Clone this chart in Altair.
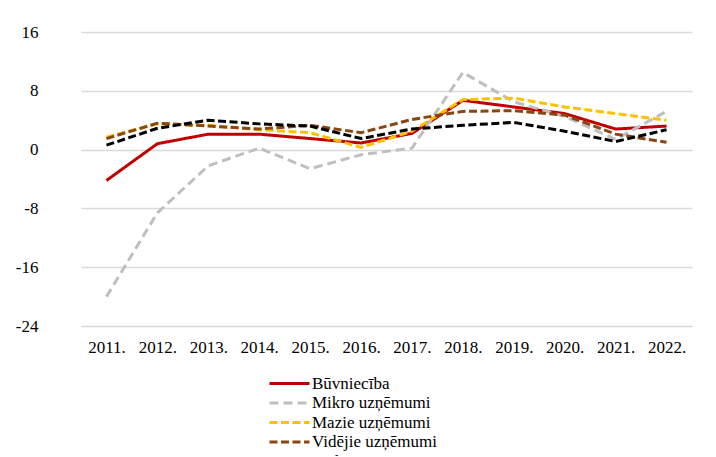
import altair as alt
import pandas as pd

years = ["2011.", "2012.", "2013.", "2014.", "2015.", "2016.", "2017.", "2018.", "2019.", "2020.", "2021.", "2022."]
series_names = ["Būvniecība", "Mikro uzņēmumi", "Mazie uzņēmumi", "Vidējie uzņēmumi", "Lielie uzņēmumi"]

buvnieciba = [-4.2, 0.8, 2.1, 2.1, 1.5, 0.9, 2.2, 6.7, 5.8, 4.9, 2.8, 3.2]
mikro = [-20.0, -8.6, -2.2, 0.2, -2.6, -0.7, 0.2, 10.5, 6.5, 4.5, 1.4, 5.2]
mazie = [1.7, 3.5, 3.3, 2.7, 2.3, 0.3, 2.5, 6.8, 7.0, 5.8, 4.9, 4.0]
videjie = [1.5, 3.6, 3.2, 2.8, 3.3, 2.3, 4.1, 5.2, 5.3, 4.7, 2.1, 1.0]
lielie = [0.6, 2.9, 4.0, 3.5, 3.2, 1.5, 2.8, 3.3, 3.7, 2.5, 1.1, 2.7]

colors = ["#C00000", "#BFBFBF", "#FFC000", "#8B4513", "#000000"]
dashes = [[1, 0], [9, 5], [8, 3.5], [8, 3.5], [8, 3.5]]

rows = []
for name, vals in zip(series_names, [buvnieciba, mikro, mazie, videjie, lielie]):
    for y, v in zip(years, vals):
        rows.append({"Gads": y, "Sērija": name, "Vērtība": v})
df = pd.DataFrame(rows)

FONT = "Liberation Serif"

chart = alt.Chart(df).mark_line(strokeWidth=3).encode(
    x=alt.X("Gads:O", sort=years, title=None,
            scale=alt.Scale(type="point", range=[28, 639]),
            axis=alt.Axis(labelAngle=0, ticks=False, domain=False, grid=False,
                          labelFont=FONT, labelFontSize=17, labelColor="#000000",
                          labelPadding=13)),
    y=alt.Y("Vērtība:Q", title=None,
            scale=alt.Scale(domain=[-24, 16], nice=False, zero=False),
            axis=alt.Axis(values=[-24, -16, -8, 0, 8, 16], ticks=False, domain=False,
                          labelExpr="'' + datum.value",
                          gridColor="#D9D9D9", gridWidth=1.3,
                          labelFont=FONT, labelFontSize=17, labelColor="#000000",
                          labelPadding=15)),
    color=alt.Color("Sērija:N", sort=series_names,
                    scale=alt.Scale(domain=series_names, range=colors),
                    legend=alt.Legend(title=None, orient="none", legendX=227, legendY=342,
                                      direction="vertical", symbolType="M-2.5,0H2.5",
                                      symbolSize=256, symbolStrokeWidth=3,
                                      labelFont=FONT, labelFontSize=17, labelColor="#000000",
                                      labelOffset=13, rowPadding=1.5, labelLimit=300)),
    strokeDash=alt.StrokeDash("Sērija:N", sort=series_names,
                              scale=alt.Scale(domain=series_names, range=dashes),
                              legend=None),
).properties(
    width=655, height=294,
    autosize=alt.AutoSizeParams(type="none"),
    padding={"left": 45, "top": 24, "right": 0, "bottom": 130},
).configure(
    font=FONT
).configure_view(stroke=None)

chart.save("out.html", embed_options={"renderer": "svg", "actions": False})
